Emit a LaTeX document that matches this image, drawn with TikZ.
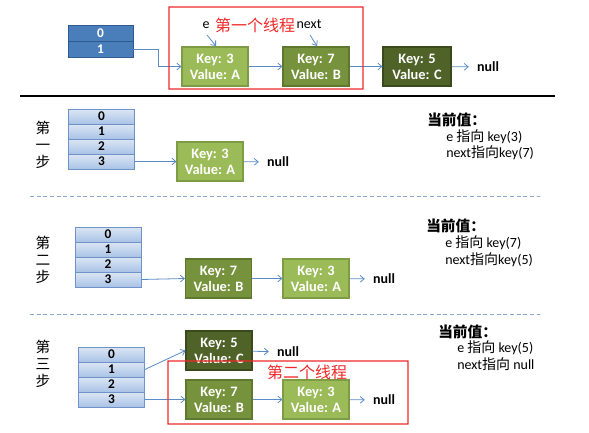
\documentclass[tikz,border=0pt]{standalone}
\usepackage{fontspec}
\setmainfont{Carlito}
\newfontfamily\cjk{Noto Sans CJK SC}
\usetikzlibrary{arrows.meta}
\definecolor{arr}{HTML}{5B8CC8}
\definecolor{cellA}{HTML}{DCE6F4}
\definecolor{cellB}{HTML}{A9C3E6}
\definecolor{cellborder}{HTML}{6F93C8}
\definecolor{darkcell}{HTML}{4A7EBB}
\definecolor{darkcellb}{HTML}{2F5A8F}
\definecolor{gLight}{HTML}{9BBB59}
\definecolor{gLightB}{HTML}{7E9C45}
\definecolor{gMid}{HTML}{76923C}
\definecolor{gMidB}{HTML}{5E7830}
\definecolor{gDark}{HTML}{4F6228}
\definecolor{gDarkB}{HTML}{3A4A1C}
\definecolor{redline}{HTML}{F02828}
\definecolor{dashc}{HTML}{8AA6C8}
\begin{document}
\begin{tikzpicture}[x=0.75pt,y=-0.75pt,
  keybox/.style={draw, line width=0.8pt, minimum width=49.5pt, minimum height=29.25pt, inner sep=0pt,
    align=center, text=white, font=\bfseries\fontsize{10.8}{12}\selectfont},
  klight/.style={keybox, fill=gLight, draw=gLightB},
  kmid/.style={keybox, fill=gMid, draw=gMidB},
  kdark/.style={keybox, fill=gDark, draw=gDarkB},
  cell/.style={draw=cellborder, line width=0.5pt, top color=cellA, bottom color=cellB,
    minimum width=49.5pt, minimum height=11.25pt, inner sep=0pt, font=\bfseries\fontsize{10}{10}\selectfont},
  dcell/.style={draw=darkcellb, line width=0.5pt, fill=darkcell, text=white,
    minimum width=48.75pt, minimum height=12pt, inner sep=0pt, font=\bfseries\fontsize{10}{10}\selectfont},
  nulltxt/.style={font=\bfseries\fontsize{10.5}{12}\selectfont, inner xsep=6pt, inner ysep=0pt},
  conn/.style={draw=arr, line width=0.6pt, -{Straight Barb[length=3pt,width=5pt]}},
  steplbl/.style={align=center, font=\cjk\fontsize{11}{12.75}\selectfont, inner sep=0pt},
  curhead/.style={anchor=west, inner sep=0pt, font=\cjk\bfseries\fontsize{11}{13}\selectfont},
  curline/.style={anchor=west, inner sep=0pt, font=\fontsize{10.5}{12}\selectfont},
  redbox/.style={fill=redline, even odd rule},
  redtxt/.style={text=redline, inner sep=0pt, font=\cjk\fontsize{12}{14}\selectfont}
]
\useasboundingbox (0,0) rectangle (589,432);

% ===== top part =====
\node[dcell] (a0) at (100.5,33) {0};
\node[dcell] (a1) at (100.5,49) {1};
\node[klight] (t3) at (215,66.5) {Key: 3\\Value: A};
\node[kmid] (t7) at (316,66.5) {Key: 7\\Value: B};
\node[kdark, minimum width=51pt] (t5) at (417,66.5) {Key: 5\\Value: C};
\node[nulltxt] (tn) at (488,67) {null};
\coordinate (tbend) at (158,49);
\draw[conn] (a1.east) -- (tbend) |- (t3.west);
\draw[conn] (t3) -- (t7);
\draw[conn] (t7) -- (t5);
\draw[conn] (t5) -- (tn);
\coordinate (te0) at (207,35);
\coordinate (te1) at (216,46);
\coordinate (tn0) at (310,35);
\coordinate (tn1) at (317,46);
\draw[conn] (te0) -- (te1);
\draw[conn] (tn0) -- (tn1);
\node[inner sep=0pt, font=\fontsize{10.5}{12}\selectfont] (te) at (206,25) {e};
\node[inner sep=0pt, font=\fontsize{10.5}{12}\selectfont] (tnext) at (309,24) {next};
\node[redtxt] (thr1) at (255,25) {第一个线程};

\draw[black, line width=1.3pt] (20,96) -- (555,96);

% ===== step 1 =====
\node[steplbl] (s1l) at (43,145) {第\\一\\步};
\node[cell] (s1c0) at (101.5,116.5) {0};
\node[cell] (s1c1) at (101.5,131.5) {1};
\node[cell] (s1c2) at (101.5,146.5) {2};
\node[cell] (s1c3) at (101.5,161.5) {3};
\node[klight] (s1k3) at (210,161.5) {Key: 3\\Value: A};
\node[nulltxt] (s1n) at (278,162) {null};
\draw[conn] (s1c3.east) -- (s1k3.west);
\draw[conn] (s1k3) -- (s1n);
\node[curhead] (s1h) at (427,120) {当前值：};
\node[curline] (s1e) at (446,137) {e {\cjk 指向} key(3)};
\node[curline] (s1x) at (446,153) {next{\cjk 指向}key(7)};

\draw[dashc, dash pattern=on 3pt off 2pt, line width=0.6pt] (30,196) -- (540,196);

% ===== step 2 =====
\node[steplbl] (s2l) at (43,260) {第\\二\\步};
\node[cell] (s2c0) at (108,234.5) {0};
\node[cell] (s2c1) at (108,249.5) {1};
\node[cell] (s2c2) at (108,264.5) {2};
\node[cell] (s2c3) at (108,279.5) {3};
\node[kmid] (s2k7) at (218.5,278.5) {Key: 7\\Value: B};
\node[klight] (s2k3) at (316,278.5) {Key: 3\\Value: A};
\node[nulltxt] (s2n) at (384,279) {null};
\draw[conn] (s2c3.east) -- (s2k7.west);
\draw[conn] (s2k7) -- (s2k3);
\draw[conn] (s2k3) -- (s2n);
\node[curhead] (s2h) at (426,226) {当前值：};
\node[curline] (s2e) at (445,243) {e {\cjk 指向} key(7)};
\node[curline] (s2x) at (445,260) {next{\cjk 指向}key(5)};

\draw[dashc, dash pattern=on 3pt off 2pt, line width=0.6pt] (30,314) -- (540,314);

% ===== step 3 =====
\node[steplbl] (s3l) at (43,364) {第\\三\\步};
\node[cell] (s3c0) at (111.5,354.5) {0};
\node[cell] (s3c1) at (111.5,369.5) {1};
\node[cell] (s3c2) at (111.5,384.5) {2};
\node[cell] (s3c3) at (111.5,399.5) {3};
\node[kdark] (s3k5) at (219,350.5) {Key: 5\\Value: C};
\node[kmid] (s3k7) at (219,399.5) {Key: 7\\Value: B};
\node[klight] (s3k3) at (316,399.5) {Key: 3\\Value: A};
\node[nulltxt] (s3n5) at (288,352) {null};
\node[nulltxt] (s3n3) at (384,400) {null};
\draw[conn] (s3c1.east) -- (s3k5.west);
\draw[conn] (s3k5) -- (s3n5);
\draw[conn] (s3c3.east) -- (s3k7.west);
\draw[conn] (s3k7) -- (s3k3);
\draw[conn] (s3k3) -- (s3n3);
\fill[redbox] (167.4,360.4) rectangle (408.6,424.6) (168.6,361.6) rectangle (407.4,423.4);
\node[redtxt] (thr2) at (307,372) {第二个线程};
\node[curhead] (s3h) at (438,332) {当前值：};
\node[curline] (s3e) at (457,348) {e {\cjk 指向} key(5)};
\node[curline] (s3x) at (457,364) {next{\cjk 指向} null};

% top thread frame
\fill[redbox] (168.4,6.4) rectangle (363.6,89.6) (169.6,7.6) rectangle (362.4,88.4);
\end{tikzpicture}
\end{document}
